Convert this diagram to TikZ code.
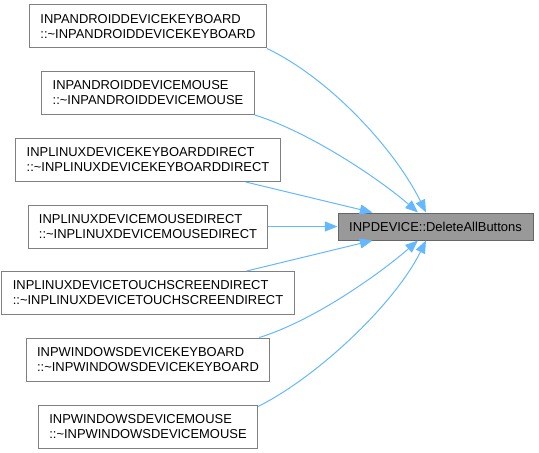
\documentclass[tikz,border=0pt]{standalone}
\usepackage{fontspec}
\setmainfont{Liberation Sans}
\usetikzlibrary{arrows.meta,calc}
\definecolor{calledge}{HTML}{63B8FF}
\definecolor{boxline}{HTML}{808080}
\definecolor{focusfill}{HTML}{999999}
\definecolor{focusline}{HTML}{666666}
\tikzset{
  callbox/.style={
    draw=boxline, fill=white, line width=0.75pt,
    align=left, font=\fontsize{9.7}{11.25}\selectfont,
    inner xsep=8.2pt, inner ysep=2pt, minimum height=32.25pt
  },
  focusbox/.style={
    draw=focusline, fill=focusfill, line width=0.75pt,
    font=\fontsize{9.7}{11.25}\selectfont,
    minimum width=146.25pt, minimum height=20.25pt, inner sep=0pt
  },
  calls/.style={{Triangle[length=9.5pt, width=7.5pt]}-, draw=calledge, line width=0.75pt}
}
\newcommand{\caller}[3]{%
  \node[callbox] (#1) at (148,#3) {#2\\::\textasciitilde #2};%
}

\begin{document}
\begin{tikzpicture}[x=0.75pt, y=-0.75pt]
    \useasboundingbox (0,0) rectangle (539,453);
    \caller{andkbd}{INPANDROIDDEVICEKEYBOARD}{26.5}
    \caller{andmouse}{INPANDROIDDEVICEMOUSE}{93}
    \caller{linkbd}{INPLINUXDEVICEKEYBOARDDIRECT}{160}
    \caller{linmouse}{INPLINUXDEVICEMOUSEDIRECT}{226.5}
    \caller{lintouch}{INPLINUXDEVICETOUCHSCREENDIRECT}{293}
    \caller{winkbd}{INPWINDOWSDEVICEKEYBOARD}{359.5}
    \caller{winmouse}{INPWINDOWSDEVICEMOUSE}{426.5}
    \node[focusbox] (focus) at (435.5,226.5) {INPDEVICE::DeleteAllButtons};
    % arrows point at the called function
    \draw[calls] ($(focus.north)+(-9.5,0)$) .. controls +(-31,-63) and +(63,30) .. (andkbd.south east);
    \draw[calls] ($(focus.north)+(-17.5,0)$) .. controls +(-38,-33) and +(55,17) .. (andmouse.south east);
    \draw[calls] ($(focus.north west)+(35,0)$) -- ($(linkbd.south east)+(-35,0)$);
    \draw[calls] (focus.west) -- (linmouse.east);
    \draw[calls] ($(focus.south west)+(35,0)$) -- ($(lintouch.north east)+(-48,0)$);
    \draw[calls] ($(focus.south)+(-17.5,0)$) .. controls +(-38,33) and +(55,-17) .. ($(winkbd.north east)+(-11,0)$);
    \draw[calls] ($(focus.south)+(-9.5,0)$) .. controls +(-31,63) and +(60,-30) .. ($(winmouse.north east)+(0,2)$);
\end{tikzpicture}
\end{document}
